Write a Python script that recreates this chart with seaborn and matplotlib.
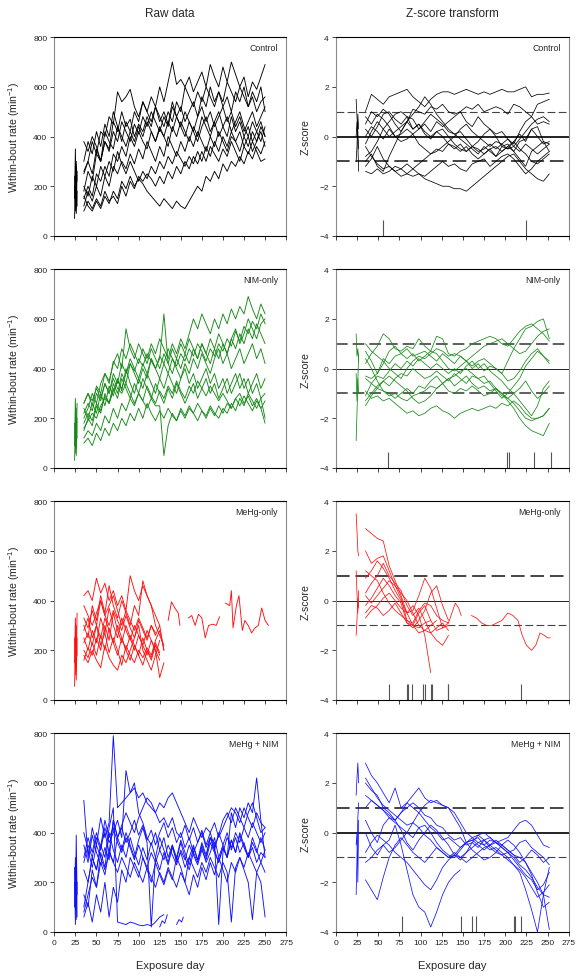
import numpy as np
import pandas as pd
import matplotlib
matplotlib.use('Agg')
import matplotlib.pyplot as plt
import seaborn as sns

# ---- data ----
GROUPS = ['Control', 'NIM-only', 'MeHg-only', 'MeHg + NIM']
COLORS = ['#000000', '#168a16', '#ff1010', '#1010ff']

START_DAYS = [24, 25, 26, 27]        # first short block of sessions
RAW_START, RAW_STEP = 35, 5
Z_START, Z_STEP = 35, 7

# raw within-bout rate (min^-1)
CTRL_RAW_FIRST = [[70, 200, 120, 260], [150, 350, 90, 180], [200, 100, 300, 220], [240, 160, 280, 120]]
CTRL_RAW = [
    [250, 300, 380, 330, 420, 400, 480, 450, 580, 540, 560, 590, 520, 480, 540, 500, 560, 520, 600, 540, 620, 700, 610, 630, 600, 640, 580, 620, 660, 600, 690, 640, 600, 680, 620, 700, 650, 600, 640, 560, 620, 590, 640, 690],
    [180, 260, 220, 330, 300, 380, 350, 460, 420, 500, 440, 470, 400, 450, 420, 480, 440, 520, 460, 500, 450, 540, 480, 520, 460, 500, 540, 480, 560, 520, 600, 540, 580, 520, 560, 500, 580, 540, 600, 520, 560, 500, 540, 560],
    [380, 340, 400, 360, 300, 420, 380, 350, 440, 400, 360, 420, 380, 440, 400, 460, 420, 380, 430, 400, 460, 420, 480, 440, 400, 460, 420, 380, 440, 480, 420, 460, 400, 440, 480, 420, 460, 500, 440, 400, 460, 420, 380, 440],
    [150, 200, 160, 250, 220, 280, 240, 330, 300, 360, 320, 400, 360, 420, 380, 350, 420, 380, 440, 400, 360, 440, 400, 460, 420, 380, 440, 400, 480, 440, 400, 460, 500, 440, 400, 480, 420, 460, 400, 440, 380, 420, 460, 400],
    [120, 180, 140, 200, 160, 240, 200, 280, 250, 300, 270, 330, 290, 350, 310, 380, 340, 300, 360, 320, 400, 360, 320, 380, 340, 400, 360, 420, 380, 340, 400, 360, 420, 380, 340, 400, 380, 420, 360, 400, 340, 380, 420, 360],
    [100, 140, 110, 150, 120, 180, 140, 160, 130, 200, 160, 220, 190, 240, 220, 250, 230, 200, 240, 210, 260, 230, 280, 250, 300, 270, 320, 290, 340, 300, 360, 330, 300, 350, 320, 380, 340, 300, 360, 330, 380, 340, 300, 310],
    [160, 120, 100, 140, 110, 160, 130, 180, 150, 220, 190, 240, 200, 230, 210, 180, 160, 140, 120, 150, 130, 110, 140, 120, 110, 140, 170, 200, 180, 240, 220, 260, 230, 290, 260, 300, 280, 320, 290, 340, 310, 360, 330, 380],
    [260, 300, 250, 350, 300, 380, 340, 420, 380, 460, 420, 380, 450, 410, 480, 440, 500, 460, 420, 480, 440, 520, 480, 440, 500, 460, 420, 480, 520, 460, 500, 440, 480, 520, 460, 500, 440, 480, 420, 460, 500, 440, 480, 520],
    [200, 160, 240, 200, 280, 240, 300, 260, 340, 290, 250, 300, 260, 220, 260, 230, 280, 250, 300, 270, 320, 290, 340, 310, 280, 320, 290, 340, 300, 360, 320, 380, 340, 400, 360, 420, 380, 340, 400, 360, 420, 380, 440, 400],
    [300, 380, 330, 420, 360, 450, 400, 500, 440, 380, 460, 420, 500, 460, 540, 500, 460, 520, 480, 440, 500, 460, 540, 500, 600, 560, 520, 580, 540, 600, 560, 520, 580, 540, 620, 580, 540, 600, 560, 520, 580, 540, 600, 500],
]

NIM_RAW_FIRST = [[30, 150, 80, 260], [90, 280, 50, 200], [180, 60, 240, 120]]
NIM_RAW = [
    [260, 300, 250, 330, 300, 380, 340, 430, 400, 480, 440, 500, 460, 420, 480, 440, 500, 460, 520, 480, 440, 500, 460, 520, 480, 540, 600, 560, 620, 580, 540, 600, 560, 620, 580, 640, 600, 650, 620, 690, 640, 600, 660, 620],
    [200, 240, 300, 260, 340, 380, 350, 420, 460, 400, 560, 480, 440, 500, 460, 420, 480, 440, 400, 460, 420, 480, 440, 500, 460, 520, 480, 440, 500, 460, 520, 480, 540, 500, 460, 520, 560, 500, 540, 600, 560, 520, 580, 600],
    [150, 200, 170, 250, 220, 300, 260, 340, 300, 380, 340, 420, 380, 340, 400, 360, 440, 400, 360, 420, 380, 440, 400, 360, 420, 380, 440, 400, 460, 420, 380, 440, 480, 420, 460, 400, 440, 480, 420, 460, 500, 440, 480, 420],
    [240, 200, 260, 220, 300, 250, 330, 290, 360, 310, 400, 340, 300, 360, 320, 380, 340, 300, 360, 320, 380, 340, 300, 360, 400, 340, 380, 320, 360, 400, 340, 380, 320, 360, 300, 340, 380, 320, 360, 300, 340, 380, 320, 360],
    [120, 150, 130, 180, 150, 210, 180, 240, 200, 260, 230, 280, 250, 300, 270, 330, 290, 260, 310, 280, 330, 300, 350, 310, 280, 330, 300, 350, 320, 290, 330, 300, 270, 300, 270, 240, 280, 300, 260, 290, 250, 280, 240, 270],
    [100, 120, 90, 140, 110, 160, 130, 180, 150, 200, 170, 220, 190, 240, 200, 260, 220, 190, 230, 200, 240, 210, 190, 230, 200, 240, 220, 190, 230, 210, 250, 220, 200, 240, 220, 260, 230, 280, 250, 300, 270, 240, 280, 300],
    [180, 220, 190, 260, 230, 290, 260, 320, 280, 360, 320, 280, 340, 300, 360, 320, 280, 340, 300, 260, 320, 280, 340, 300, 260, 300, 340, 280, 320, 360, 300, 340, 280, 320, 360, 300, 340, 380, 320, 360, 300, 340, 280, 200],
    [220, 260, 230, 300, 270, 340, 300, 380, 340, 420, 380, 440, 400, 360, 420, 380, 440, 400, 440, 620, 420, 380, 440, 400, 460, 420, 480, 440, 500, 460, 420, 480, 440, 500, 460, 520, 480, 540, 500, 560, 520, 580, 540, 500],
    [260, 300, 270, 320, 280, 340, 300, 360, 320, 300, 340, 300, 260, 300, 270, 240, 280, 250, 250, 50, 170, 220, 190, 240, 210, 250, 220, 260, 230, 200, 240, 210, 250, 220, 260, 240, 280, 250, 290, 260, 230, 270, 240, 180],
    [160, 190, 220, 200, 250, 280, 260, 310, 350, 320, 380, 420, 390, 440, 410, 460, 430, 400, 450, 420, 480, 440, 410, 460, 430, 480, 450, 500, 470, 430, 480, 450, 500, 470, 520, 490, 550, 510, 570, 540, 590, 560, 620, 580],
]

MEHG_RAW_FIRST = [[55, 200, 120, 350], [150, 330, 80, 250], [250, 100, 300, 180]]
MEHG_RAW = [
    [420, 440, 400, 490, 430, 470, 400, 440, 380, 420, 360, 500, 440, 400, 460, 420, 380, 300, 260, 220],
    [300, 250, 380, 320, 420, 350, 460, 380, 330, 400, 350, 300, 380, 340, 480, 420, 380, 340, 300, 200],
    [250, 200, 280, 230, 330, 270, 370, 300, 250, 330, 280, 240, 300, 260, 220, 280, 240, 200, 160],
    [160, 210, 180, 250, 200, 300, 240, 350, 280, 230, 300, 250, 200, 260, 220, 180, 240, 200, 90, 150],
    [200, 170, 230, 180, 260, 200, 290, 230, 180, 250, 200, 160, 220, 180, 140, 200, 170, 230, 190],
    [330, 290, 360, 300, 400, 340, 300, 360, 320, 280, 340, 290, 250, 320, 280, 240, 300, 260, 300],
    [280, 330, 250, 300, 220, 270, 190, 250, 200, 140, 220, 180, 150, 200, 170, 210, 180, 240, 280, 200],
    [380, 340, 300, 350, 400, 340, 380, 420, 360, 300, 360, 320, 280, 330, 290, 250, 300, 270],
    [230, 270, 220, 300, 250, 330, 280, 230, 300, 250, 200, 260, 220, 180, 250, 200, 160, 220, 180],
    [180, 150, 200, 160, 130, 220, 170, 140, 120, 180, 150, 200, 250, 300, 200, 160, 120, 180, 240],
]
# the one animal that kept being tested after day 130 (with gaps)
MEHG_TAIL_DAYS = [[135, 139, 143, 147, 149],
                  [159, 163, 167, 171, 175, 179, 183, 188, 192, 196],
                  [203, 208, 210, 212, 216, 219, 223, 226, 230, 234, 238, 242, 246, 250, 254]]
MEHG_TAIL_RAW = [[320, 395, 370, 350, 300],
                 [330, 340, 300, 345, 330, 250, 300, 305, 300, 335],
                 [390, 380, 440, 290, 380, 420, 280, 320, 300, 270, 290, 300, 370, 320, 300]]

MN_RAW_FIRST = [[260, 30, 390, 150], [100, 300, 50, 200], [200, 120, 280, 60]]
MN_RAW = [
    [530, 300, 420, 350, 460, 380, 440, 790, 500, 520, 540, 560, 580, 540, 560, 520, 500, 480, 520, 500, 540, 560, 520, 480, 440, 400, 460, 420, 380, 420, 400, 440, 380, 420, 460, 500, 480, 440, 500, 460, 420, 480, 440, 420],
    [280, 350, 300, 380, 330, 420, 360, 400, 450, 380, 650, 560, 600, 480, 440, 380, 350, 400, 330, 380, 300, 350, 280, 320, 260, 300, 350, 290, 340, 280, 320, 380, 300, 350, 400, 330, 380, 320, 360, 300, 340, 280, 320, 300],
    [150, 100, 250, 180, 320, 260, 400, 330, 280, 350, 300, 380, 320, 270, 340, 290, 360, 300, 250, 320, 270, 340, 290, 360, 300, 250, 320, 280, 350, 300, 380, 330, 280, 340, 300, 370, 320, 400, 350, 300, 380, 330, 280, 330],
    [350, 280, 390, 320, 270, 340, 290, 450, 380, 330, 400, 350, 300, 370, 420, 360, 20, 300, 380, 330, 280, 350, 300, 370, 320, 270, 340, 290, 360, 310, 380, 330, 400, 350, 300, 370, 320, 390, 340, 300, 360, 320, 380, 330],
    [250, 200, 300, 250, 350, 300, 420, 500, 40, 35, 30, 40, 35, 28, 25, 30, 25, 40, 60, 70],
    [60, 120, 40, 150, 80, 200, 60, 180, 120, 250, 200, 300, 260, 220, 300, 250, 200, 280, 230, 190, 250, 210, 300, 260, 200, 150, 230, 180, 260, 210, 280, 230, 300, 250, 200, 280, 240, 300, 260, 320, 280, 240, 280, 240],
    [100, 200, 300, 250, 350, 400, 320, 450, 380, 420, 360, 400, 450, 390, 430, 370, 410, 350, 400, 440, 380, 420, 360, 400, 340, 380, 320, 360, 400, 340, 380, 360, 30, 320, 380, 340, 400, 360, 420, 380, 440, 400, 360, 400],
    [300, 380, 320, 400, 340, 450, 380, 420, 360, 320, 380, 340, 290, 350, 300, 260, 320, 280, 330, 290, 350, 310, 270, 330, 290, 350, 310, 270, 330, 290, 360, 320, 280, 340, 300, 480, 420, 500, 460, 520, 480, 620, 450, 300],
    [400, 330, 260, 350, 300, 250, 320, 280, 240, 300, 260, 220, 280, 240, 200, 260, 220, 180, 240, 200, 260, 220, 180, 240, 200, 300, 260, 220, 280, 240, 300, 260, 220, 280, 240, 40, 260, 300, 250, 200, 50, 240, 200, 60],
    [80, 150, 220, 180, 280, 230, 330, 280, 380, 430, 480, 440, 400, 460, 500, 540, 520, 480, 440, 460, 420, 460, 400, 380, 430, 370, 420, 360, 410, 350, 400, 340, 390, 450, 480, 440, 500, 460, 420, 480, 520, 460, 400, 420],
]
MN_TAIL_DAYS = [[125, 128, 131, 134], [145, 148, 151, 153]]
MN_TAIL_RAW = [[20, 45, 35, 70], [30, 50, 40, 60]]

# z-score transform
CTRL_Z_FIRST = [[1.5, 0.8, 0.2, -0.5], [0.0, 0.6, -0.3, -1.4], [-1.0, -0.4, 0.9, 0.3]]
CTRL_Z = [
    [1.0, 1.7, 1.5, 1.3, 1.6, 1.7, 1.8, 1.9, 1.6, 1.4, 1.2, 1.5, 1.7, 1.8, 1.8, 1.7, 1.8, 1.9, 1.8, 1.7, 1.8, 1.7, 1.8, 1.9, 1.8, 1.8, 1.9, 2.0, 1.6, 1.7, 1.7, 1.75],
    [0.5, 1.0, 0.8, 1.1, 0.9, 0.5, 0.2, 0.6, 1.1, 1.0, 0.9, 1.2, 1.1, 1.3, 1.0, 0.9, 1.0, 1.2, 1.1, 1.3, 1.0, 1.1, 1.2, 1.1, 0.9, 1.3, 1.2, 1.0, 0.8, 1.3, 1.4, 1.5],
    [0.3, 0.0, 0.4, 0.9, 1.0, 0.7, 0.5, 0.8, 0.7, 0.3, 0.5, 0.2, 0.6, 0.4, 0.6, 0.8, 1.0, 0.6, 0.4, 0.8, 0.5, 0.3, 0.1, 0.2, -0.1, -0.3, 0.2, 0.6, 0.8, 0.5, 0.6, 0.5],
    [-0.3, 0.2, 0.6, 0.3, 0.0, 0.2, 0.4, 0.6, 0.3, 0.5, 0.2, 0.0, 0.2, 0.3, 0.0, -0.3, -0.5, -0.6, -0.4, -0.2, 0.1, 0.3, 0.0, -0.4, -0.5, -0.2, 0.1, -0.2, 0.3, 0.0, -0.3, -0.2],
    [-0.8, -0.6, -0.2, 0.3, 0.6, 0.9, 1.0, 0.8, 0.3, 0.5, 0.1, -0.1, 0.2, 0.0, -0.3, -0.5, -0.3, -0.6, -0.4, -0.5, -0.7, -0.5, -0.8, -0.6, -0.4, -0.6, -0.2, -0.1, 0.3, 0.4, -0.2, -0.6],
    [-1.0, -0.7, -1.2, -1.4, -0.8, -0.3, 0.2, 0.6, 0.9, 1.2, 1.6, 1.3, 0.9, 0.6, 0.3, 0.1, -0.1, -0.3, -0.5, -0.7, -0.4, -0.6, -0.8, -0.4, -0.3, -0.6, -0.9, -1.2, -0.6, -0.4, -0.2, -0.3],
    [-1.4, -1.5, -1.3, -1.5, -1.4, -1.2, -1.3, -1.1, -1.3, -1.5, -1.6, -1.4, -1.2, -1.0, -1.2, -1.1, -1.3, -1.4, -1.1, -1.0, -0.9, -1.2, -1.0, -0.8, -0.7, -0.9, -1.2, -1.5, -1.3, -1.0, -0.8, -0.6],
    [-0.4, -0.8, -1.1, -1.3, -1.2, -1.4, -1.3, -1.5, -1.6, -1.5, -1.7, -1.8, -1.9, -2.0, -2.0, -2.1, -2.1, -2.2, -2.0, -1.8, -1.6, -1.4, -1.2, -1.0, -0.8, -0.7, -1.0, -1.3, -1.5, -1.7, -1.8, -1.5],
    [0.8, 0.5, 0.9, 0.7, 0.4, 0.0, 0.1, 0.3, 0.1, 0.3, 0.6, 0.9, 0.7, 0.5, 0.2, 0.1, 0.2, -0.1, -0.4, -0.6, -0.5, -0.3, -0.5, -0.3, -0.1, -0.4, -0.6, -0.3, -0.5, -0.7, -0.5, -0.3],
    [0.0, 0.4, 0.2, -0.1, 0.3, 0.0, -0.2, -0.1, 0.1, -0.3, -0.5, -0.7, -0.6, -0.4, -0.2, 0.0, 0.3, 0.5, 0.2, 0.0, -0.2, -0.4, -0.2, -0.3, -0.5, -0.4, -0.1, 0.2, 0.5, 0.7, 0.8, 0.6],
    [-1.2, -0.9, -0.4, -0.9, -1.2, -1.4, -1.6, -1.5, -1.3, -1.1, -0.9, -0.7, -0.5, -0.6, -0.3, -0.4, -0.6, -0.4, -0.7, -0.9, -0.7, -0.5, -0.4, -0.6, -0.4, -0.2, -0.5, -0.7, -1.0, -1.1, -0.9, -0.7],
]

NIM_Z_FIRST = [[1.4, 0.5, 0.8, 0.3], [-0.2, -1.3, -0.4, -1.0], [-2.9, -1.8, -0.5, 0.6]]
NIM_Z = [
    [0.2, 0.6, 0.9, 1.4, 1.2, 0.8, 0.7, 0.9, 0.8, 1.2, 0.9, 0.7, 1.3, 1.2, 0.6, 0.5, 0.7, 0.8, 1.0, 1.1, 1.2, 1.3, 1.2, 1.0, 0.9, 1.2, 1.5, 1.7, 1.8, 1.6, 1.4, 1.1],
    [0.7, 0.3, -0.2, 0.2, 0.7, 0.9, 0.6, 0.8, 0.5, 0.6, 0.7, 0.5, 0.3, 0.6, 0.4, 0.2, 0.5, 0.3, 0.1, 0.3, 0.4, 0.2, 0.0, -0.2, 0.3, 0.8, 1.2, 1.6, 1.7, 1.9, 2.0, 1.2],
    [-0.3, -0.4, -0.2, 0.4, 0.2, 0.5, 0.6, 0.4, 0.6, 0.3, 0.5, 0.7, 0.6, 0.3, 0.0, -0.1, 0.1, 0.3, 0.0, 0.2, -0.1, 0.1, 0.0, -0.2, -0.5, -0.4, -0.1, 0.3, 0.6, 0.8, 0.5, 0.3],
    [-1.1, -0.6, -0.3, -0.4, -0.1, 0.2, 0.0, 0.3, 0.1, 0.4, 0.2, 0.0, 0.2, 0.0, -0.2, 0.0, -0.2, 0.1, 0.3, 0.0, 0.2, -0.1, -0.3, -0.5, -0.8, -1.0, -1.3, -1.6, -1.9, -1.5, -0.8, -0.5],
    [-0.4, -0.6, -0.8, -0.5, -0.7, -0.4, -0.2, -0.3, 0.0, -0.2, -0.4, -0.3, -0.1, -0.3, -0.5, -0.2, -0.4, -0.6, -0.3, -0.4, -0.6, -0.5, -0.8, -1.0, -1.2, -1.4, -1.7, -2.0, -2.1, -2.0, -1.9, -1.6],
    [-1.5, -1.1, -0.8, -0.9, -1.0, -1.2, -1.0, -0.8, -1.0, -0.7, -0.8, -0.5, -0.3, -0.6, -0.4, -0.7, -0.5, -0.3, -0.6, -0.8, -0.7, -0.9, -0.8, -1.0, -1.3, -1.6, -2.0, -2.3, -2.5, -2.6, -2.7, -2.2],
    [-0.9, -1.2, -1.1, -1.3, -1.2, -1.4, -1.6, -1.8, -1.7, -1.9, -1.8, -1.6, -1.5, -1.7, -1.8, -2.0, -1.8, -1.7, -1.6, -1.7, -1.6, -1.5, -1.6, -1.4, -1.5, -1.3, -1.5, -1.8, -2.0, -2.0, -1.9, -1.6],
    [0.4, 0.0, -0.5, -0.9, -1.1, -1.0, -1.2, -1.3, -1.1, -1.0, -0.9, -0.7, -0.8, -0.6, -0.9, -1.0, -0.8, -0.9, -0.7, -0.9, -1.1, -1.0, -0.8, -1.1, -1.2, -1.0, -0.8, -0.5, -0.9, -1.2, -1.0, -0.7],
    [-1.3, -1.0, -0.7, -0.5, -0.3, -0.5, -0.7, -0.9, -1.2, -1.4, -1.3, -1.1, -0.8, -0.6, -0.4, -0.3, -0.1, 0.0, -0.2, -0.4, -0.3, -0.6, -0.9, -1.2, -1.0, -0.7, -0.4, 0.1, 0.4, 0.7, 0.5, 0.2],
    [1.0, 0.7, 0.5, 0.3, 0.0, -0.2, -0.4, 0.0, 0.3, 0.5, 0.4, 0.6, 0.8, 0.7, 0.5, 0.6, 0.5, 0.3, 0.5, 0.7, 0.9, 1.0, 1.1, 1.2, 1.0, 0.8, 0.6, 0.7, 1.0, 1.3, 1.5, 1.6],
]

MEHG_Z_FIRST = [[3.5, 2.8, 2.0, 1.8], [1.2, 0.3, -0.5, 0.4], [-1.4, -0.8, 0.1, -0.3]]
MEHG_Z = [
    [2.9, 2.7, 2.5, 2.4, 1.4, 0.8, 0.2, -0.5, -1.0, -1.1, -0.9, -0.8],
    [2.0, 1.5, 1.7, 1.8, 1.2, 0.6, 0.1, -0.8, -1.0, -1.3, -1.2, -1.0, -0.8],
    [0.9, 1.2, 1.6, 1.3, 0.9, 0.4, 0.0, -0.5, -0.4, 0.2, 0.9, 0.5, -0.3, -1.1, -1.0],
    [0.3, 0.7, 1.0, 1.5, 1.0, 0.7, 0.4, -0.2, -0.6, -0.3, -0.8, -1.3, -1.6, -1.8, -1.4],
    [-0.2, 0.1, 0.5, 0.9, 0.6, 0.2, -0.1, -0.9, -1.0, -0.5, -0.2, -0.8, -1.2, -1.1, -0.9],
    [-0.7, -0.4, -0.2, 0.1, 0.3, 0.0, -0.3, -0.5, -0.2, -0.6, -1.4, -2.9],
    [-0.5, -0.2, -0.3, -0.6, -0.4, -0.1, -0.5, -0.9, -1.1, -0.8, -0.4, 0.3, 0.6, -0.2, -0.8],
    [0.2, -0.1, 0.2, 0.5, 0.8, 0.6, 0.3, 0.0, -0.5, -1.0, -1.2, -1.3, -1.1, -0.9, -1.2],
    [1.2, 1.0, 0.8, 0.3, -0.1, -0.4, -0.6, -0.8, -0.9, -0.4, -0.1, -0.2, -0.6, -0.8, -0.9],
]
MEHG_TAIL_ZDAYS = [[133, 137, 141, 145, 148],
                   [160, 166, 172, 178, 184, 190, 196, 203, 209, 215, 220, 225, 231, 236, 241, 246, 250, 253]]
MEHG_TAIL_Z = [[-0.9, -0.5, -0.1, -0.3, -0.6],
               [-0.6, -0.7, -0.9, -1.0, -1.0, -0.9, -0.8, -0.5, -0.6, -0.8, -1.4, -1.8, -2.0, -1.8, -1.3, -1.4, -1.5, -1.5]]

MN_Z_FIRST = [[-2.5, -1.0, 0.6, 1.2], [1.5, 2.2, 2.8, 2.0], [-0.5, 0.0, -2.0, 0.5]]
MN_Z = [
    [2.8, 2.3, 2.0, 1.6, 1.2, 1.8, 1.0, 1.2, 1.5, 1.8, 1.4, 1.2, 1.3, 1.1, 1.0, 0.8, 0.4, 0.0, -0.2, -0.4, -0.3, -0.5, -0.4, -0.6, -0.8, -1.0, -1.3, -1.5, -1.8, -2.2, -2.5, -2.6],
    [2.0, 1.7, 1.5, 1.0, 0.8, 0.5, 0.8, 1.0, 1.2, 1.0, 0.7, 0.6, 0.3, 0.2, -0.1, -0.3, -0.2, -0.5, -0.4, -0.6, -0.3, -0.2, -0.4, -0.5, -0.7, -0.9, -1.0, -1.2, -1.6, -2.0, -2.5, -3.9],
    [1.5, 1.3, 1.1, 0.9, 0.6, 0.5, 0.1, -0.4, -0.7, -0.3, 0.0, 0.3, 0.1, -0.2, -0.5, -0.9, -1.1, -0.8, -0.4, -0.1, -0.3, -0.6, -0.8, -0.5, -0.3, -0.5, -0.8, -1.2, -1.7, -2.4, -3.0, -2.8],
    [0.5, 0.0, -0.4, 0.3, 0.6, 0.4, 0.2, 0.0, -0.2, 0.2, 0.3, 0.0, -0.4, -0.7, -0.9, -1.0, -0.7, -0.4, -0.3, -0.2, -0.5, -0.7, -0.6, -0.8, -1.0, -1.3, -1.6, -2.3, -3.1, -4.0, -2.5, -1.4],
    [-1.9, -2.3, -2.7, -1.8, -1.0, -0.5, -0.2, -0.5, -0.8, -1.0, -1.2, -0.9, -0.6, -0.8, -1.0, -0.9, -0.6, -0.4, -0.3, -0.5, -0.7, -0.5, -0.3, -0.5, -0.7, -0.9, -1.2, -1.0, -0.7, -0.9, -1.2, -1.0],
    [0.0, -0.6, -0.9, -0.5, -0.3, 0.3, -0.5, -1.5, -2.5, -3.0, -3.2, -3.8, -3.2, -2.5, -2.0, -1.7, -1.5],
    [-0.8, -0.4, -0.1, -0.3, -0.5, -0.8, -1.0, -1.2, -1.5, -1.8, -2.1, -2.3, -1.9, -1.4, -1.1, -0.9, -1.0, -0.8, -0.6, -0.4, -0.5, -0.3, -0.4, -0.6, -0.8, -1.1, -1.4, -1.7, -1.9, -2.3, -2.1, -1.6],
    [1.0, 1.3, 1.1, 0.9, 0.7, 0.5, 0.8, 1.2, 1.0, 0.8, 0.5, 0.2, 0.0, -0.3, -0.2, -0.4, -0.6, -0.4, -0.2, -0.1, 0.0, -0.2, -0.4, -0.3, -0.2, 0.1, 0.4, 0.5, 0.3, -0.1, -0.5, -0.6],
    [-1.2, -1.0, -0.7, -0.5, -0.8, -0.6, -0.3, 0.0, 0.4, 0.8, 1.1, 1.3, 1.2, 1.1, 1.0, 0.6, 0.2, -0.4, -0.7, -0.9, -1.1, -1.0, -0.8, -0.9, -1.1, -1.3, -1.5, -1.8, -2.2, -2.6, -2.4, -2.1],
    [2.2, 1.8, 1.4, 1.1, 0.9, 0.7, 0.5, 0.3, 0.4, 0.2, -0.1, -0.3, -0.6, -0.8, -1.0, -0.8, -1.0, -1.2, -1.0, -0.8, -0.6, -0.5, -0.7, -0.9, -0.8, -0.7, -0.4, -0.3, -0.6, -0.8, -1.0, -1.3],
]

# days flagged by the change-point test (short ticks at the bottom of z panels)
CTRL_FLAGS = [56, 225]
NIM_FLAGS = [62, 202, 204, 234, 254]
MEHG_FLAGS = [63, 84, 85, 90, 103, 105, 112, 113, 132, 133, 219]
MN_FLAGS = [78, 148, 161, 166, 210, 212, 219]

RAW_SETS = [(CTRL_RAW_FIRST, CTRL_RAW, [], []),
            (NIM_RAW_FIRST, NIM_RAW, [], []),
            (MEHG_RAW_FIRST, MEHG_RAW, MEHG_TAIL_DAYS, MEHG_TAIL_RAW),
            (MN_RAW_FIRST, MN_RAW, MN_TAIL_DAYS, MN_TAIL_RAW)]
Z_SETS = [(CTRL_Z_FIRST, CTRL_Z, [], []),
          (NIM_Z_FIRST, NIM_Z, [], []),
          (MEHG_Z_FIRST, MEHG_Z, MEHG_TAIL_ZDAYS, MEHG_TAIL_Z),
          (MN_Z_FIRST, MN_Z, [], [])]
FLAGS = [CTRL_FLAGS, NIM_FLAGS, MEHG_FLAGS, MN_FLAGS]


def to_long(first, main, tail_days, tail_vals, start, step):
    rows = []
    unit = 0
    for vals in first:
        for d, v in zip(START_DAYS, vals):
            rows.append((unit, d, v))
        unit += 1
    for vals in main:
        for i, v in enumerate(vals):
            rows.append((unit, start + step * i, v))
        unit += 1
    for days, vals in zip(tail_days, tail_vals):
        for d, v in zip(days, vals):
            rows.append((unit, d, v))
        unit += 1
    return pd.DataFrame(rows, columns=['unit', 'day', 'value'])


sns.set_style('ticks')
plt.rcParams['font.family'] = ['Liberation Sans', 'DejaVu Sans']
plt.rcParams['mathtext.default'] = 'regular'

fig = plt.figure(figsize=(5.84, 9.79), dpi=100)
bottoms = [0.758, 0.521, 0.284, 0.047]
h = 0.203
# thickness of the reference lines differs a bit panel to panel
zero_lw = [1.4, 0.7, 0.7, 1.4]
dash_lw = [(0.8, 1.4), (1.2, 1.2), (1.4, 0.8), (1.4, 0.8)]

for k in range(4):
    axl = fig.add_axes([0.093, bottoms[k], 0.397, h])
    axr = fig.add_axes([0.575, bottoms[k], 0.399, h])

    first, main, td, tv = RAW_SETS[k]
    df = to_long(first, main, td, tv, RAW_START, RAW_STEP)
    sns.lineplot(data=df, x='day', y='value', units='unit', estimator=None,
                 color=COLORS[k], lw=0.65, sort=False, legend=False, ax=axl)

    first, main, td, tv = Z_SETS[k]
    dz = to_long(first, main, td, tv, Z_START, Z_STEP)
    sns.lineplot(data=dz, x='day', y='value', units='unit', estimator=None,
                 color=COLORS[k], lw=0.55, sort=False, legend=False, ax=axr)

    axr.axhline(0, color='#222222', lw=zero_lw[k], zorder=0)
    axr.axhline(1, color='#444444', lw=dash_lw[k][0], ls=(0, (7, 3)), zorder=0)
    axr.axhline(-1, color='#444444', lw=dash_lw[k][1], ls=(0, (7, 3)), zorder=0)
    axr.vlines(FLAGS[k], -4, -3.35, color='#555555', lw=0.8)

    axl.set_ylim(0, 800)
    axl.set_yticks([0, 200, 400, 600, 800])
    axr.set_ylim(-4, 4)
    axr.set_yticks([-4, -2, 0, 2, 4])

    for ax in (axl, axr):
        ax.set_xlim(0, 275)
        ax.set_xticks(range(0, 276, 25))
        ax.tick_params(direction='out', length=3, width=0.6, labelsize=6,
                       pad=2, labelcolor='#222222')
        for name, s in ax.spines.items():
            s.set_visible(True)
            s.set_linewidth(0.8)
            s.set_color('#8a8a8a' if name in ('left', 'right') else '#000000')
        ax.text(0.965, 0.97, GROUPS[k], transform=ax.transAxes,
                ha='right', va='top', fontsize=6.3)
        if k < 3:
            ax.set_xticklabels([])
            ax.set_xlabel('')
        else:
            ax.set_xlabel('Exposure day', fontsize=8, labelpad=10)

    axl.set_ylabel('Within-bout rate (min$^{-1}$)', fontsize=7.6)
    axl.yaxis.set_label_coords(-0.14, 0.5)
    axr.set_ylabel('Z-score', fontsize=7.6)
    axr.yaxis.set_label_coords(-0.11, 0.5)

fig.text(0.291, 0.9857, 'Raw data', ha='center', va='center', fontsize=8.5)
fig.text(0.774, 0.9857, 'Z-score transform', ha='center', va='center', fontsize=8.5)

fig.savefig('out.png', dpi=100)
